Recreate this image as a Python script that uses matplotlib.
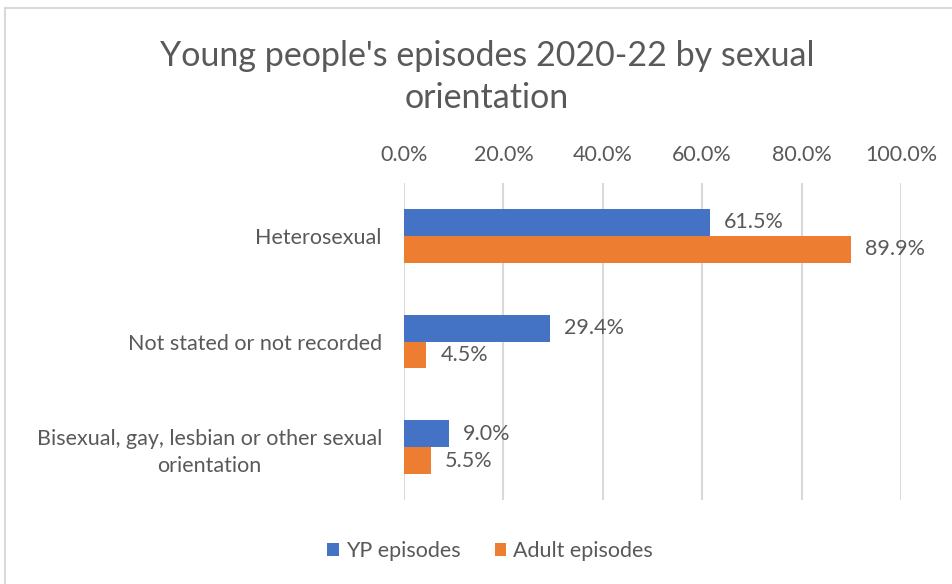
import matplotlib
matplotlib.use("Agg")
import matplotlib.pyplot as plt
from matplotlib.patches import Rectangle
from matplotlib.ticker import PercentFormatter
import numpy as np

categories = ["Heterosexual", "Not stated or not recorded",
              "Bisexual, gay, lesbian or other sexual\norientation"]
yp_episodes = [61.5, 29.4, 9.0]
adult_episodes = [89.9, 4.5, 5.5]
series_names = ["YP episodes", "Adult episodes"]
x_ticks = [0, 20, 40, 60, 80, 100]

BLUE = "#4472C4"
ORANGE = "#ED7D31"
TEXT = "#595959"
GRID = "#D9D9D9"
FS = 15.5

plt.rcParams["font.family"] = ["Lato", "DejaVu Sans"]

fig = plt.figure(figsize=(9.52, 5.84), dpi=100)
fig.patches.append(Rectangle((5 / 952, -0.1), 1.1, 1 - 8 / 584 + 0.1, transform=fig.transFigure,
                             fill=False, edgecolor=GRID, linewidth=1.5))
ax = fig.add_axes([404 / 952, 1 - 500 / 584, (901 - 404) / 952, (500 - 183) / 584])

y = np.arange(len(categories))
h = 0.255
b1 = ax.barh(y - h / 2, yp_episodes, height=h, color=BLUE, label=series_names[0], zorder=3)
b2 = ax.barh(y + h / 2, adult_episodes, height=h, color=ORANGE, label=series_names[1], zorder=3)
for bars in (b1, b2):
    ax.bar_label(bars, labels=[f"{v.get_width():.1f}%" for v in bars], padding=10,
                 fontsize=FS, color=TEXT)

ax.set_xlim(0, 100)
ax.set_ylim(2.5, -0.5)
ax.set_xticks(x_ticks)
ax.xaxis.set_major_formatter(PercentFormatter(decimals=1))
ax.xaxis.tick_top()
ax.set_yticks(y)
ax.set_yticklabels(categories, multialignment="center", linespacing=1.4)
ax.tick_params(axis="both", length=0, labelsize=FS, labelcolor=TEXT)
ax.tick_params(axis="y", pad=16)
ax.tick_params(axis="x", pad=13)
ax.grid(axis="x", color=GRID, linewidth=1.5, zorder=0)
for s in ax.spines.values():
    s.set_visible(False)

fig.text(487 / 952, 1 - 77 / 584, "Young people's episodes 2020-22 by sexual\norientation",
         ha="center", va="center", fontsize=24.5, color=TEXT, linespacing=1.38)

fig.legend(handles=[b1, b2], loc="center", bbox_to_anchor=(490 / 952, 1 - 551 / 584), ncol=2,
           frameon=False, fontsize=FS, labelcolor=TEXT, handlelength=0.55, handleheight=0.55,
           handletextpad=0.3, columnspacing=1.6)

fig.savefig("out.png", dpi=100)
